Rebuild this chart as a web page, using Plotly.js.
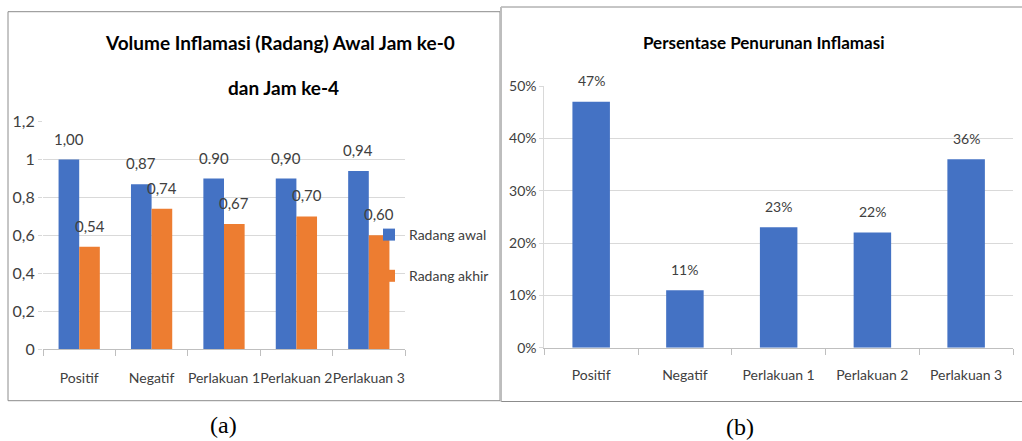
<!DOCTYPE html>
<html>
<head>
<meta charset="utf-8">
<script src="https://cdn.plot.ly/plotly-3.0.1.min.js"></script>
<style>html,body{margin:0;padding:0;background:#fff;}#chart{width:1022px;height:441px;}</style>
</head>
<body>
<div id="chart"></div>
<script>
// ---- data ----
const categories = ["Positif", "Negatif", "Perlakuan 1", "Perlakuan 2", "Perlakuan 3"];
const radangAwal = [1.00, 0.87, 0.90, 0.90, 0.94];
const radangAkhir = [0.54, 0.74, 0.66, 0.70, 0.60];
const radangAwalLabels = ["1,00", "0,87", "0.90", "0,90", "0,94"];
const radangAkhirLabels = ["0,54", "0,74", "0,67", "0,70", "0,60"];
const yTickValsA = [0, 0.2, 0.4, 0.6, 0.8, 1, 1.2];
const yTickTextA = ["0", "0,2", "0,4", "0,6", "0,8", "1", "1,2"];
const penurunan = [0.47, 0.11, 0.23, 0.22, 0.36];
const penurunanLabels = ["47%", "11%", "23%", "22%", "36%"];
const titleA1 = "Volume Inflamasi (Radang) Awal Jam ke-0";
const titleA2 = "dan Jam ke-4";
const titleB = "Persentase Penurunan Inflamasi";

// ---- styling ----
const FONT = "Lato, 'Open Sans', sans-serif";
const BLUE = "#4472C4", ORANGE = "#ED7D31";
const W = 1022, H = 441;
const px = x => x / W, py = y => (H - y) / H;
const gapA = 0.43, gapB = 0.6;

const traces = [
  {type: "bar", name: "Radang awal", x: categories, y: radangAwal, marker: {color: BLUE},
   xaxis: "x", yaxis: "y", legendgroup: "a1", hoverinfo: "none"},
  {type: "bar", name: "Radang akhir", x: categories, y: radangAkhir, marker: {color: ORANGE},
   xaxis: "x", yaxis: "y", legendgroup: "a2", hoverinfo: "none"},
  {type: "bar", name: "Penurunan", x: categories, y: penurunan, marker: {color: BLUE},
   xaxis: "x2", yaxis: "y2", showlegend: false, hoverinfo: "none", width: 1 - gapB}
];

const annotations = [];
const off = (1 - gapA) / 4;
categories.forEach((c, i) => {
  annotations.push({xref: "x", yref: "y", x: i - off, y: radangAwal[i], yshift: 21, text: radangAwalLabels[i],
    showarrow: false, font: {family: FONT, size: 15, color: "#404040"}});
  annotations.push({xref: "x", yref: "y", x: i + off, y: radangAkhir[i], yshift: 21, text: radangAkhirLabels[i],
    showarrow: false, font: {family: FONT, size: 15, color: "#404040"}});
  annotations.push({xref: "x2", yref: "y2", x: i, y: penurunan[i], yshift: 21, text: penurunanLabels[i],
    showarrow: false, font: {family: FONT, size: 14, color: "#404040"}});
});
annotations.push({xref: "paper", yref: "paper", x: px(280), y: py(42), text: "<b>" + titleA1 + "</b>",
  showarrow: false, xanchor: "center", yanchor: "middle", font: {family: FONT, size: 19, color: "#000"}});
annotations.push({xref: "paper", yref: "paper", x: px(283), y: py(87), text: "<b>" + titleA2 + "</b>",
  showarrow: false, xanchor: "center", yanchor: "middle", font: {family: FONT, size: 19, color: "#000"}});
annotations.push({xref: "paper", yref: "paper", x: px(763), y: py(42), text: "<b>" + titleB + "</b>",
  showarrow: false, xanchor: "center", yanchor: "middle", font: {family: FONT, size: 17, color: "#000"}});
annotations.push({xref: "paper", yref: "paper", x: px(223), y: py(425), text: "(a)",
  showarrow: false, xanchor: "center", yanchor: "middle", font: {family: "'Liberation Serif', serif", size: 24, color: "#000"}});
annotations.push({xref: "paper", yref: "paper", x: px(740), y: py(427), text: "(b)",
  showarrow: false, xanchor: "center", yanchor: "middle", font: {family: "'Liberation Serif', serif", size: 24, color: "#000"}});

const axisX = {
  type: "category", showgrid: false, showline: true, linecolor: "#bfbfbf", linewidth: 1,
  ticks: "outside", tickson: "boundaries", ticklen: 6, tickcolor: "#bfbfbf", tickangle: 0,
  tickfont: {family: FONT, size: 14, color: "#404040"}, fixedrange: true, zeroline: false
};

const layout = {
  width: W, height: H, margin: {l: 0, r: 0, t: 0, b: 0},
  paper_bgcolor: "#fff", plot_bgcolor: "#fff",
  barmode: "group",
  showlegend: true,
  legend: {x: px(369), y: py(219), xanchor: "left", yanchor: "top", tracegroupgap: 20,
    font: {family: FONT, size: 14, color: "#404040"}, bgcolor: "rgba(0,0,0,0)", itemclick: false},
  xaxis: Object.assign({}, axisX, {domain: [px(43), px(405)], anchor: "y", ticklabelstandoff: 16}),
  yaxis: {domain: [py(349), py(121.7)], range: [0, 1.2], anchor: "x", tickvals: yTickValsA, ticktext: yTickTextA,
    showgrid: true, gridcolor: "#d9d9d9", gridwidth: 1, zeroline: false, showline: false,
    ticks: "outside", ticklen: 4, tickcolor: "#d9d9d9",
    tickfont: {family: FONT, size: 16, color: "#404040"}, fixedrange: true},
  xaxis2: Object.assign({}, axisX, {domain: [px(544.3), px(1013)], anchor: "y2", ticklabelstandoff: 14,
    tickfont: {family: FONT, size: 14, color: "#404040"}}),
  yaxis2: {domain: [py(347.7), py(86)], range: [0, 0.5], anchor: "x2", tickformat: ".0%", dtick: 0.1,
    showgrid: true, gridcolor: "#d9d9d9", gridwidth: 1, zeroline: false, showline: true, linecolor: "#d9d9d9",
    ticks: "outside", ticklen: 4, tickcolor: "#d9d9d9",
    tickfont: {family: FONT, size: 14, color: "#404040"}, fixedrange: true},
  bargap: gapA,
  annotations: annotations,
  shapes: [
    {type: "rect", xref: "paper", yref: "paper", x0: px(8), x1: px(500), y0: py(400.7), y1: py(11.7),
     line: {color: "#8c8c8c", width: 1}},
    {type: "line", xref: "paper", yref: "paper", x0: px(501), x1: px(1022), y0: py(7), y1: py(7),
     line: {color: "#8c8c8c", width: 1}},
    {type: "line", xref: "paper", yref: "paper", x0: px(501), x1: px(1022), y0: py(401.5), y1: py(401.5),
     line: {color: "#8c8c8c", width: 1}},
    {type: "line", xref: "paper", yref: "paper", x0: px(501), x1: px(501), y0: py(401.5), y1: py(7),
     line: {color: "#bdbdbd", width: 2}}
  ]
};

Plotly.newPlot("chart", traces, layout, {staticPlot: true, displayModeBar: false});
</script>
</body>
</html>
